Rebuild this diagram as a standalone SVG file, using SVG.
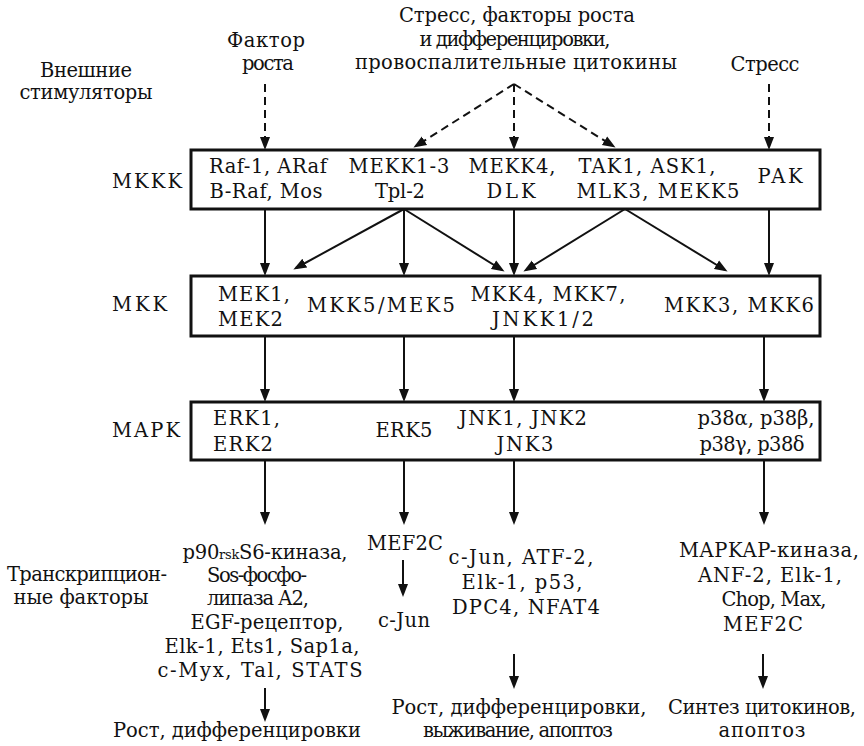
<svg xmlns="http://www.w3.org/2000/svg" width="864" height="746" viewBox="0 0 864 746">
  <style>
    text { font-family: "DejaVu Serif", serif; font-size: 19.5px; fill: #111; }
    .c { text-anchor: middle; }
    .box { fill: #fff; stroke: #111; stroke-width: 3; }
    .ln { stroke: #111; stroke-width: 2; fill: none; marker-end: url(#ah); }
    .dash { stroke-dasharray: 8 5; }
    .small { font-size: 13px; }
  </style>
  <defs>
    <marker id="ah" markerUnits="userSpaceOnUse" markerWidth="14" markerHeight="12" viewBox="0 0 14 12" refX="10" refY="6" orient="auto">
      <path d="M0,1 L13,6 L0,11 z" fill="#111"/>
    </marker>
  </defs>

  <!-- external stimuli -->
  <g id="stim-left">
    <text class="c" x="86" y="77" textLength="92">Внешние</text>
    <text class="c" x="86" y="99" textLength="133">стимуляторы</text>
  </g>
  <g id="stim-growth">
    <text class="c" x="266" y="47" textLength="78">Фактор</text>
    <text class="c" x="268" y="70" textLength="52">роста</text>
  </g>
  <g id="stim-mixed">
    <text class="c" x="517" y="22" textLength="236">Стресс, факторы роста</text>
    <text class="c" x="515" y="46" textLength="191">и дифференцировки,</text>
    <text class="c" x="516" y="69" textLength="322">провоспалительные цитокины</text>
  </g>
  <g id="stim-stress">
    <text class="c" x="765" y="71" textLength="69">Стресс</text>
  </g>

  <!-- level labels -->
  <g id="lbl-mkkk"><text x="112" y="188" textLength="70">MKKK</text></g>
  <g id="lbl-mkk"><text x="112" y="311" textLength="55">MKK</text></g>
  <g id="lbl-mapk"><text x="112" y="437" textLength="68">MAPK</text></g>
  <g id="lbl-tf">
    <text class="c" x="87" y="581" textLength="160">Транскрипцион-</text>
    <text class="c" x="81" y="604" textLength="135">ные факторы</text>
  </g>

  <!-- MKKK level -->
  <g id="mkkk">
    <rect class="box" x="191" y="150" width="629" height="59"/>
    <text class="c" x="268" y="173" textLength="118">Raf-1, ARaf</text>
    <text class="c" x="266" y="198" textLength="113">B-Raf, Mos</text>
    <text class="c" x="399" y="173" textLength="101">MEKK1-3</text>
    <text class="c" x="400" y="198" textLength="50">Tpl-2</text>
    <text class="c" x="512" y="173" textLength="87">MEKK4,</text>
    <text class="c" x="511" y="198" textLength="49">DLK</text>
    <text class="c" x="647" y="173" textLength="137">TAK1, ASK1,</text>
    <text class="c" x="658" y="198" textLength="163">MLK3, MEKK5</text>
    <text class="c" x="780" y="183" textLength="45">PAK</text>
  </g>

  <!-- MKK level -->
  <g id="mkk">
    <rect class="box" x="191" y="276" width="629" height="60"/>
    <text x="218" y="301" textLength="72">MEK1,</text>
    <text x="218" y="326" textLength="65">MEK2</text>
    <text class="c" x="381" y="312" textLength="148">MKK5/MEK5</text>
    <text class="c" x="548" y="301" textLength="155">MKK4, MKK7,</text>
    <text class="c" x="543" y="326" textLength="102">JNKK1/2</text>
    <text class="c" x="739" y="312" textLength="150">MKK3, MKK6</text>
  </g>

  <!-- MAPK level -->
  <g id="mapk">
    <rect class="box" x="191" y="402" width="629" height="58"/>
    <text x="213" y="425" textLength="67">ERK1,</text>
    <text x="213" y="451" textLength="60">ERK2</text>
    <text class="c" x="404" y="437" textLength="57">ERK5</text>
    <text class="c" x="523" y="425" textLength="128">JNK1, JNK2</text>
    <text class="c" x="525" y="451" textLength="57">JNK3</text>
    <text class="c" x="756" y="425" textLength="117">p38α, p38β,</text>
    <text class="c" x="752" y="451" textLength="105">p38γ, p38δ</text>
  </g>

  <!-- ERK1/2 targets -->
  <g id="tf-erk">
    <text class="c" x="265" y="559" textLength="165">p90<tspan class="small">rsk</tspan>S6-киназа,</text>
    <text class="c" x="257" y="582" textLength="100">Sos-фосфо-</text>
    <text class="c" x="258" y="605" textLength="102">липаза A2,</text>
    <text class="c" x="267" y="629" textLength="153">EGF-рецептор,</text>
    <text class="c" x="262" y="653" textLength="195">Elk-1, Ets1, Sap1a,</text>
    <text class="c" x="260" y="677" textLength="205">c-Myx, Tal, STATS</text>
  </g>
  <g id="out-erk">
    <text class="c" x="237" y="737" textLength="248">Рост, дифференцировки</text>
  </g>

  <!-- ERK5 targets -->
  <g id="tf-erk5a"><text class="c" x="405" y="550" textLength="76">MEF2C</text></g>
  <g id="tf-erk5b"><text class="c" x="404" y="627" textLength="52">c-Jun</text></g>

  <!-- JNK targets -->
  <g id="tf-jnk">
    <text class="c" x="521" y="564" textLength="145">c-Jun, ATF-2,</text>
    <text class="c" x="522" y="589" textLength="121">Elk-1, p53,</text>
    <text class="c" x="526" y="614" textLength="148">DPC4, NFAT4</text>
  </g>
  <g id="out-jnk">
    <text class="c" x="519" y="714" textLength="255">Рост, дифференцировки,</text>
    <text class="c" x="518" y="737" textLength="190">выживание, апоптоз</text>
  </g>

  <!-- p38 targets -->
  <g id="tf-p38">
    <text class="c" x="769" y="557" textLength="180">MAPKAP-киназа,</text>
    <text class="c" x="770" y="582" textLength="144">ANF-2, Elk-1,</text>
    <text class="c" x="774" y="606" textLength="105">Chop, Max,</text>
    <text class="c" x="763" y="631" textLength="80">MEF2C</text>
  </g>
  <g id="out-p38">
    <text class="c" x="762" y="714" textLength="188">Синтез цитокинов,</text>
    <text class="c" x="762" y="737" textLength="87">апоптоз</text>
  </g>

  <!-- connectors -->
  <g id="connectors">
    <!-- stimuli to MKKK (dashed) -->
    <line class="ln dash" x1="265" y1="84" x2="265" y2="147"/>
    <line class="ln dash" x1="514" y1="84" x2="514" y2="147"/>
    <line class="ln dash" x1="514" y1="84" x2="416" y2="146"/>
    <line class="ln dash" x1="514" y1="84" x2="613" y2="146"/>
    <line class="ln dash" x1="769" y1="84" x2="769" y2="147"/>

    <!-- MKKK to MKK -->
    <line class="ln" x1="265" y1="209" x2="265" y2="273"/>
    <line class="ln" x1="404" y1="209" x2="296" y2="268"/>
    <line class="ln" x1="404" y1="209" x2="404" y2="273"/>
    <line class="ln" x1="404" y1="209" x2="502" y2="270"/>
    <line class="ln" x1="514" y1="209" x2="514" y2="273"/>
    <line class="ln" x1="625" y1="209" x2="526" y2="270"/>
    <line class="ln" x1="625" y1="209" x2="725" y2="270"/>
    <line class="ln" x1="769" y1="209" x2="769" y2="273"/>

    <!-- MKK to MAPK -->
    <line class="ln" x1="265" y1="336" x2="265" y2="399"/>
    <line class="ln" x1="404" y1="336" x2="404" y2="399"/>
    <line class="ln" x1="514" y1="336" x2="514" y2="399"/>
    <line class="ln" x1="764" y1="336" x2="764" y2="399"/>

    <!-- MAPK to substrates -->
    <line class="ln" x1="265" y1="460" x2="265" y2="522"/>
    <line class="ln" x1="404" y1="460" x2="404" y2="522"/>
    <line class="ln" x1="514" y1="460" x2="514" y2="522"/>
    <line class="ln" x1="764" y1="460" x2="764" y2="522"/>

    <!-- substrates to outcomes -->
    <line class="ln" x1="403" y1="560" x2="403" y2="594"/>
    <line class="ln" x1="265" y1="688" x2="265" y2="719"/>
    <line class="ln" x1="514" y1="654" x2="514" y2="686"/>
    <line class="ln" x1="763" y1="654" x2="763" y2="686"/>
  </g>
</svg>
